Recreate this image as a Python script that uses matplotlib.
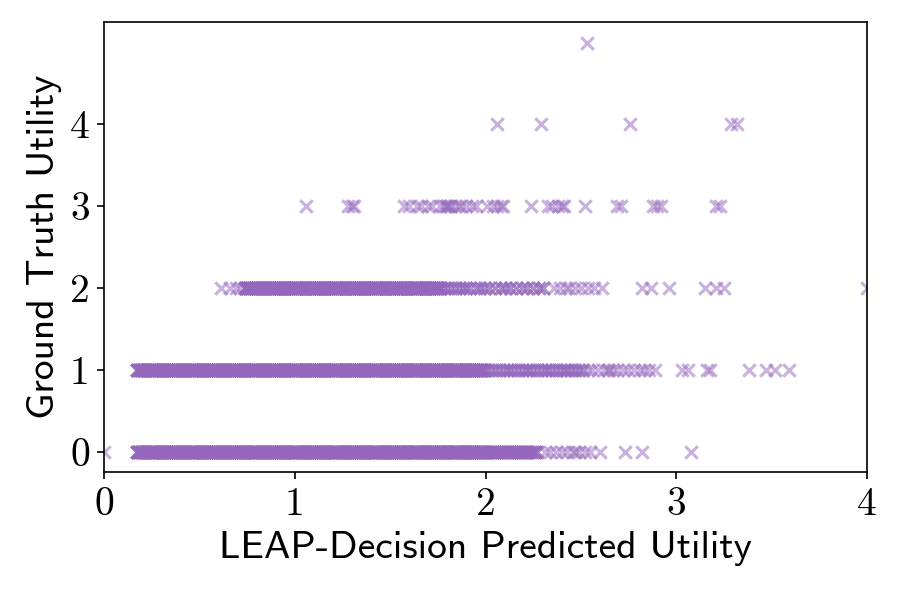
import matplotlib
matplotlib.use("Agg")
import matplotlib.pyplot as plt

# predicted utility values, grouped by ground truth utility level.
# "dense" stretches are heavily overplotted (about 4 observations per listed value),
# "mid" stretches about 2, the rest are single observations.
x_gt0_dense = [0.17, 0.18, 0.19, 0.20, 0.21, 0.22, 0.23, 0.24, 0.25, 0.26, 0.27, 0.28, 0.29,
               0.30, 0.31, 0.32, 0.33, 0.34, 0.35, 0.36, 0.37, 0.38, 0.39,
               0.40, 0.41, 0.42, 0.43, 0.44, 0.45, 0.46, 0.47, 0.48, 0.49,
               0.50, 0.51, 0.52, 0.53, 0.54, 0.55, 0.56, 0.57, 0.58, 0.59,
               0.60, 0.61, 0.62, 0.63, 0.64, 0.65, 0.66, 0.67, 0.68, 0.69,
               0.70, 0.71, 0.72, 0.73, 0.74, 0.75, 0.76, 0.77, 0.78, 0.79,
               0.80, 0.81, 0.82, 0.83, 0.84, 0.85, 0.86, 0.87, 0.88, 0.89,
               0.90, 0.91, 0.92, 0.93, 0.94, 0.95, 0.96, 0.97, 0.98, 0.99,
               1.00, 1.01, 1.02, 1.03, 1.04, 1.05, 1.06, 1.07, 1.08, 1.09,
               1.10, 1.11, 1.12, 1.13, 1.14, 1.15, 1.16, 1.17, 1.18, 1.19,
               1.20, 1.21, 1.22, 1.23, 1.24, 1.25, 1.26, 1.27, 1.28, 1.29,
               1.30, 1.31, 1.32, 1.33, 1.34, 1.35, 1.36, 1.37, 1.38, 1.39,
               1.40, 1.41, 1.42, 1.43, 1.44, 1.45, 1.46, 1.47, 1.48, 1.49,
               1.50, 1.51, 1.52, 1.53, 1.54, 1.55, 1.56, 1.57, 1.58, 1.59,
               1.60, 1.61, 1.62, 1.63, 1.64, 1.65, 1.66, 1.67, 1.68, 1.69,
               1.70, 1.71, 1.72, 1.73, 1.74, 1.75, 1.76, 1.77, 1.78, 1.79,
               1.80, 1.81, 1.82, 1.83, 1.84, 1.85, 1.86, 1.87, 1.88, 1.89,
               1.90, 1.91, 1.92, 1.93, 1.94, 1.95, 1.96, 1.97, 1.98, 1.99]
x_gt0_mid = [2.00, 2.01, 2.02, 2.03, 2.04, 2.05, 2.06, 2.07, 2.08, 2.09, 2.10, 2.11, 2.12,
             2.13, 2.14, 2.15, 2.16, 2.17, 2.18, 2.19, 2.20, 2.21, 2.22, 2.23, 2.24, 2.25,
             2.26, 2.27]
x_gt0_sparse = [0.00, 2.31, 2.34, 2.37, 2.40, 2.43, 2.46, 2.47, 2.49, 2.52, 2.55,
                2.60, 2.73, 2.82, 3.08]

x_gt1_dense = [0.17, 0.18, 0.19, 0.20, 0.21, 0.22, 0.23, 0.24, 0.25, 0.26, 0.27, 0.28, 0.29,
               0.30, 0.31, 0.32, 0.33, 0.34, 0.35, 0.36, 0.37, 0.38, 0.39,
               0.40, 0.41, 0.42, 0.43, 0.44, 0.45, 0.46, 0.47, 0.48, 0.49,
               0.50, 0.51, 0.52, 0.53, 0.54, 0.55, 0.56, 0.57, 0.58, 0.59,
               0.60, 0.61, 0.62, 0.63, 0.64, 0.65, 0.66, 0.67, 0.68, 0.69,
               0.70, 0.71, 0.72, 0.73, 0.74, 0.75, 0.76, 0.77, 0.78, 0.79,
               0.80, 0.81, 0.82, 0.83, 0.84, 0.85, 0.86, 0.87, 0.88, 0.89,
               0.90, 0.91, 0.92, 0.93, 0.94, 0.95, 0.96, 0.97, 0.98, 0.99,
               1.00, 1.01, 1.02, 1.03, 1.04, 1.05, 1.06, 1.07, 1.08, 1.09,
               1.10, 1.11, 1.12, 1.13, 1.14, 1.15, 1.16, 1.17, 1.18, 1.19,
               1.20, 1.21, 1.22, 1.23, 1.24, 1.25, 1.26, 1.27, 1.28, 1.29,
               1.30, 1.31, 1.32, 1.33, 1.34, 1.35, 1.36, 1.37, 1.38, 1.39,
               1.40, 1.41, 1.42, 1.43, 1.44, 1.45, 1.46, 1.47, 1.48, 1.49,
               1.50, 1.51, 1.52, 1.53, 1.54, 1.55, 1.56, 1.57, 1.58, 1.59,
               1.60, 1.61, 1.62, 1.63, 1.64, 1.65, 1.66, 1.67, 1.68, 1.69,
               1.70, 1.71, 1.72, 1.73, 1.74, 1.75, 1.76, 1.77, 1.78, 1.79,
               1.80, 1.81, 1.82, 1.83, 1.84, 1.85, 1.86, 1.87, 1.88, 1.89,
               1.90, 1.91, 1.92, 1.93, 1.94, 1.95, 1.96, 1.97, 1.98, 1.99]
x_gt1_mid = [2.01, 2.03, 2.05, 2.07, 2.09, 2.11, 2.13, 2.15, 2.17, 2.19, 2.21, 2.23, 2.25,
             2.27, 2.29, 2.31, 2.33, 2.35, 2.37, 2.39, 2.41, 2.43, 2.45, 2.47, 2.49, 2.51]
x_gt1_sparse = [2.54, 2.56, 2.59, 2.62, 2.64, 2.65, 2.67, 2.69, 2.72, 2.75, 2.78, 2.81,
                2.83, 2.86, 2.89, 3.03, 3.06, 3.16, 3.18, 3.38, 3.47, 3.52, 3.59]

x_gt2_dense = [0.74, 0.75, 0.76, 0.77, 0.78, 0.79,
               0.80, 0.81, 0.82, 0.83, 0.84, 0.85, 0.86, 0.87, 0.88, 0.89,
               0.90, 0.91, 0.92, 0.93, 0.94, 0.95, 0.96, 0.97, 0.98, 0.99,
               1.00, 1.01, 1.02, 1.03, 1.04, 1.05, 1.06, 1.07, 1.08, 1.09,
               1.10, 1.11, 1.12, 1.13, 1.14, 1.15, 1.16, 1.17, 1.18, 1.19,
               1.20, 1.21, 1.22, 1.23, 1.24, 1.25, 1.26, 1.27, 1.28, 1.29,
               1.30, 1.31, 1.32, 1.33, 1.34, 1.35, 1.36, 1.37, 1.38, 1.39,
               1.40, 1.41, 1.42, 1.43, 1.44, 1.45, 1.46, 1.47, 1.48, 1.49,
               1.50, 1.51, 1.52, 1.53, 1.54, 1.55, 1.56, 1.57, 1.58, 1.59,
               1.60, 1.61, 1.62, 1.63, 1.64, 1.65, 1.66, 1.67, 1.68, 1.69,
               1.70, 1.71, 1.72, 1.73, 1.74, 1.75, 1.76]
x_gt2_mid = [1.78, 1.80, 1.82, 1.84, 1.86, 1.88, 1.90, 1.92, 1.95, 1.97, 1.99, 2.02, 2.05,
             2.08, 2.10, 2.13, 2.16, 2.19, 2.22, 2.25, 2.28, 2.30]
x_gt2_sparse = [0.61, 0.66, 0.69, 0.71, 2.36, 2.39, 2.42, 2.44, 2.47, 2.50, 2.54, 2.57, 2.61,
                2.82, 2.87, 2.96, 3.15, 3.21, 3.25, 4.00]

x_gt3 = [1.06, 1.28, 1.30, 1.31, 1.57, 1.60, 1.64, 1.66, 1.70, 1.72, 1.76, 1.78, 1.79, 1.80, 1.81,
         1.82, 1.84, 1.86, 1.87, 1.90, 1.93, 1.95, 2.01, 2.04, 2.06, 2.08, 2.09, 2.24, 2.33, 2.35,
         2.38, 2.40, 2.41, 2.52, 2.69, 2.71, 2.88, 2.90, 2.92, 3.21, 3.23]
x_gt4 = [2.06, 2.29, 2.76, 3.29, 3.32]
x_gt5 = [2.53]

dense_copies = 4
mid_copies = 2

xs, ys = [], []
for level, dense, mid, sparse in [(0, x_gt0_dense, x_gt0_mid, x_gt0_sparse),
                                  (1, x_gt1_dense, x_gt1_mid, x_gt1_sparse),
                                  (2, x_gt2_dense, x_gt2_mid, x_gt2_sparse),
                                  (3, [], [], x_gt3),
                                  (4, [], [], x_gt4),
                                  (5, [], [], x_gt5)]:
    vals = dense * dense_copies + mid * mid_copies + sparse
    xs += vals
    ys += [level] * len(vals)

fig, ax = plt.subplots(figsize=(6, 4), dpi=150)
fig.subplots_adjust(left=0.116, right=0.963, top=0.963, bottom=0.213)

ax.scatter(xs, ys, marker='x', color='tab:purple', alpha=0.5, s=36)

ax.set_xlim(0, 4)
ax.set_ylim(-0.25, 5.25)
ax.set_xticks([0, 1, 2, 3, 4])
ax.set_yticks([0, 1, 2, 3, 4])
ax.set_xticklabels(['0', '1', '2', '3', '4'], family='cmr10', fontsize=19)
ax.set_yticklabels(['0', '1', '2', '3', '4'], family='cmr10', fontsize=19)

ax.set_xlabel('LEAP-Decision Predicted Utility', family='cmss10', fontsize=19)
ax.set_ylabel('Ground Truth Utility', family='cmss10', fontsize=19)

fig.savefig('out.png', dpi=150)
